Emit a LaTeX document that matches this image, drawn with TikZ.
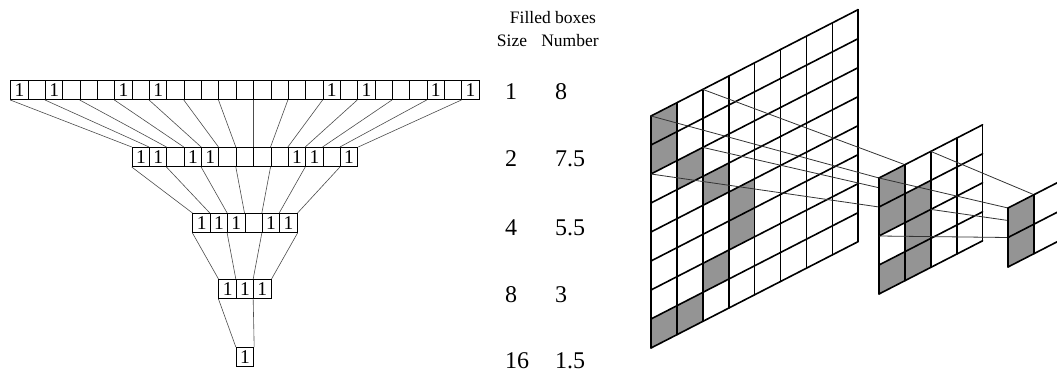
\documentclass[tikz,border=0pt]{standalone}
\usepackage{fontspec}
\setmainfont{Liberation Serif}
\usetikzlibrary{positioning}

\tikzset{
  cell/.style={draw, line width=1pt, minimum width=17.35pt, minimum height=19pt,
               inner sep=0pt, anchor=north west},
  one/.style={font=\fontsize{19.5}{19.5}\selectfont, inner sep=0pt},
  link/.style={line width=0.6pt, black!70},
  gridline/.style={line width=1.6pt, line cap=round},
  filled/.style={fill=black!42},
  ray/.style={line width=0.8pt, black!80},
  headtext/.style={font=\fontsize{17.5}{17.5}\selectfont, anchor=base, inner sep=0pt},
  valtext/.style={font=\fontsize{24}{24}\selectfont, anchor=base west, inner sep=0pt}
}

% one row of boxes: name, number of boxes, top edge, boxes holding a 1
\newcommand\boxrow[4]{%
  \pgfmathsetmacro\rowx{244.5-#2*17.35/2}
  \pgfmathtruncatemacro\rowlast{#2-1}
  \foreach \i in {0,...,\rowlast}
    \node[cell] (#1c\i) at (\rowx+\i*17.35, #3) {};
  \foreach \i in {#4}
    \node[one] (#1o\i) at (#1c\i) {1};
}
% every second edge of the upper row goes to the next edge of the lower row
\newcommand\linkrows[3]{%
  \foreach \k [evaluate=\k as \kk using int(2*\k)] in {0,...,#3}
    \draw[link] (#1c\kk.south west) -- (#2c\k.north west);
}

\begin{document}
\begin{tikzpicture}[x=1pt, y=-1pt]
  \useasboundingbox (0,0) rectangle (1057,374);
  \clip (0,0) rectangle (1057,374);

  % one-dimensional boxes
  \boxrow{r1}{27}{80}{0,2,6,8,18,20,24,26}
  \boxrow{r2}{13}{147}{0,1,3,4,9,10,12}
  \boxrow{r3}{6}{213}{0,1,2,4,5}
  \boxrow{r4}{3}{279}{0,1,2}
  \boxrow{r5}{1}{347}{0}

  \linkrows{r1}{r2}{12}
  \draw[link] (r1c26.south west) -- (r2c12.north east);
  \linkrows{r2}{r3}{5}
  \draw[link] (r2c12.south west) -- (r3c5.north east);
  \linkrows{r3}{r4}{2}
  \draw[link] (r3c5.south east) -- (r4c2.north east);
  \linkrows{r4}{r5}{0}
  \draw[link] (r4c2.south west) -- (r5c0.north east);

  % table
  \node[headtext] (head) at (553,24) {Filled boxes};
  \node[headtext] (sizeh) at (512,47) {Size};
  \node[headtext] (numh) at (570,47) {Number};
  \node[valtext] (s1) at (505,100) {1};
  \node[valtext] (n1) at (555,100) {8};
  \node[valtext] (s2) at (505,167) {2};
  \node[valtext] (n2) at (555,167) {7.5};
  \node[valtext] (s3) at (505,235) {4};
  \node[valtext] (n3) at (555,235) {5.5};
  \node[valtext] (s4) at (505,302) {8};
  \node[valtext] (n4) at (555,302) {3};
  \node[valtext] (s5) at (505,368) {16};
  \node[valtext] (n5) at (555,368) {1.5};

  % two-dimensional boxes, size 1
  \begin{scope}[shift={(651,116)}, x={(25.9pt,13.3pt)}, y={(0pt,-29pt)}]
    \fill[white] (0,0) -- (8,0) -- (8,8) -- (0,8) -- cycle;
    \foreach \i/\j in {0/0,0/1,1/2,2/3,3/4,3/5,2/6,0/7,1/7}
      \fill[filled] (\i,\j) -- ++(1,0) -- ++(0,1) -- ++(-1,0) -- cycle;
    \foreach \i in {0,...,8} \draw[gridline] (\i,0) -- (\i,8);
    \foreach \j in {0,...,8} \draw[gridline] (0,\j) -- (8,\j);
    \coordinate (b00) at (0,0);
    \coordinate (b20) at (2,0);
    \coordinate (b02) at (0,2);
    \coordinate (b22) at (2,2);
  \end{scope}
  \begin{scope}[shift={(879,178)}, x={(25.9pt,13.3pt)}, y={(0pt,-29pt)}]
    \coordinate (m00) at (0,0);
    \coordinate (m10) at (1,0);
    \coordinate (m01) at (0,1);
    \coordinate (m11) at (1,1);
    \coordinate (m20) at (2,0);
    \coordinate (m02) at (0,2);
    \coordinate (m22) at (2,2);
  \end{scope}
  \draw[ray] (b00) -- (m00);
  \draw[ray] (b20) -- (m10);
  \draw[ray] (b02) -- (m01);
  \draw[ray] (b22) -- (m11);

  % size 2
  \begin{scope}[shift={(879,178)}, x={(25.9pt,13.3pt)}, y={(0pt,-29pt)}]
    \fill[white] (0,0) -- (4,0) -- (4,4) -- (0,4) -- cycle;
    \foreach \i/\j in {0/0,0/1,0/3,1/1,1/2,1/3}
      \fill[filled] (\i,\j) -- ++(1,0) -- ++(0,1) -- ++(-1,0) -- cycle;
    \foreach \i in {0,...,4} \draw[gridline] (\i,0) -- (\i,4);
    \foreach \j in {0,...,4} \draw[gridline] (0,\j) -- (4,\j);
  \end{scope}
  \begin{scope}[shift={(1008,208)}, x={(25.9pt,13.3pt)}, y={(0pt,-29.5pt)}]
    \coordinate (s00) at (0,0);
    \coordinate (s10) at (1,0);
    \coordinate (s01) at (0,1);
    \coordinate (s11) at (1,1);
  \end{scope}
  \draw[ray] (m00) -- (s00);
  \draw[ray] (m20) -- (s10);
  \draw[ray] (m02) -- (s01);
  \draw[ray] (m22) -- (s11);

  % size 4
  \begin{scope}[shift={(1008,208)}, x={(25.9pt,13.3pt)}, y={(0pt,-29.5pt)}]
    \fill[white] (0,0) -- (2,0) -- (2,2) -- (0,2) -- cycle;
    \foreach \j in {0,1}
      \fill[filled] (0,\j) -- ++(1,0) -- ++(0,1) -- ++(-1,0) -- cycle;
    \foreach \i in {0,...,2} \draw[gridline] (\i,0) -- (\i,2);
    \foreach \j in {0,...,2} \draw[gridline] (0,\j) -- (2,\j);
  \end{scope}
\end{tikzpicture}
\end{document}
